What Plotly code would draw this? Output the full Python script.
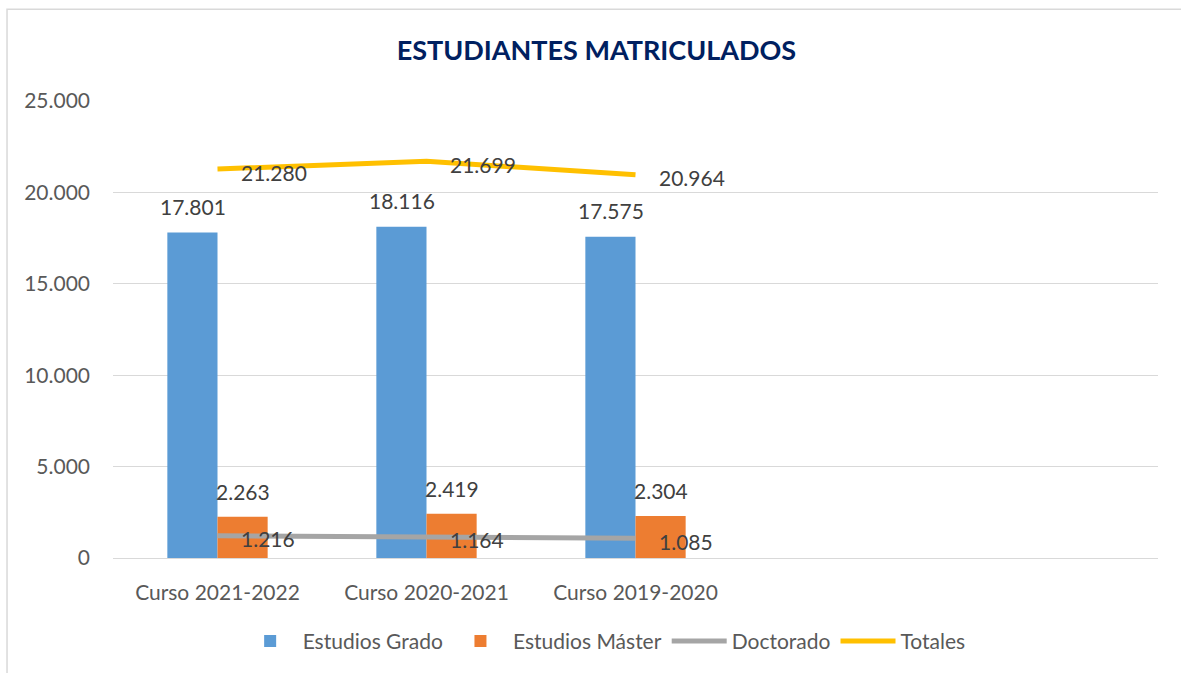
import plotly.graph_objects as go

categories = ["Curso 2021-2022", "Curso 2020-2021", "Curso 2019-2020", " ", "  "]
grado = [17801, 18116, 17575, None, None]
master = [2263, 2419, 2304, None, None]
doctorado = [1216, 1164, 1085, None, None]
totales = [21280, 21699, 20964, None, None]

FONT = "Lato"
TXT = "#404040"

fig = go.Figure()
fig.add_trace(go.Bar(name="Estudios Grado", x=categories, y=grado, marker_color="#5B9BD5",
                     marker_line_width=0))
fig.add_trace(go.Bar(name="Estudios Máster", x=categories, y=master, marker_color="#ED7D31",
                     marker_line_width=0))
fig.add_trace(go.Scatter(name="Doctorado", x=categories, y=doctorado, mode="lines",
                         line=dict(color="#A5A5A5", width=5)))
fig.add_trace(go.Scatter(name="Totales", x=categories, y=totales, mode="lines",
                         line=dict(color="#FFC000", width=5)))

def fmt(v):
    return f"{v:,}".replace(",", ".")

ann = []
for c, v in zip(categories, grado):
    if v is not None:
        ann.append(dict(x=c, y=v, text=fmt(v), xshift=-25, yshift=26, showarrow=False))
for c, v in zip(categories, master):
    if v is not None:
        ann.append(dict(x=c, y=v, text=fmt(v), xshift=25, yshift=25, showarrow=False))
for series in (doctorado, totales):
    for c, v in zip(categories, series):
        if v is not None:
            ann.append(dict(x=c, y=v, text=fmt(v), xshift=21, yshift=-3, xanchor="left",
                            showarrow=False))
for a in ann:
    a["font"] = dict(family=FONT, size=21, color=TXT)

fig.update_layout(
    width=1181, height=673,
    margin=dict(l=113, r=23, t=101, b=114),
    paper_bgcolor="white", plot_bgcolor="white",
    separators=",.",
    barmode="group", bargap=0.52, bargroupgap=0,
    title=dict(text="<b>ESTUDIANTES MATRICULADOS</b>", x=0.505, xanchor="center",
               y=0.925, yanchor="middle",
               font=dict(family=FONT, size=27, color="#002060")),
    font=dict(family=FONT, size=21, color="#595959"),
    legend=dict(orientation="h", x=0.47, xanchor="center", y=-0.135, yanchor="top",
                font=dict(family=FONT, size=21, color="#595959"), traceorder="normal",
                itemwidth=55),
    annotations=ann,
    shapes=[dict(type="rect", xref="paper", yref="paper", x0=-0.1014, x1=1.05,
                 y0=-0.3, y1=1.2009, line=dict(color="#D9D9D9", width=1.5),
                 fillcolor="rgba(0,0,0,0)", layer="below")],
)
fig.update_xaxes(showgrid=False, showline=True, linecolor="#D9D9D9", linewidth=1,
                 ticks="", ticklabelstandoff=16,
                 tickfont=dict(family=FONT, size=21, color="#595959"))
fig.update_yaxes(range=[0, 25000], dtick=5000, tickformat=",d", showgrid=True,
                 gridcolor="#D9D9D9", gridwidth=1, zeroline=False, showline=False,
                 ticks="", ticklabelstandoff=22,
                 tickfont=dict(family=FONT, size=21, color="#595959"))
fig.write_html("out.html")
